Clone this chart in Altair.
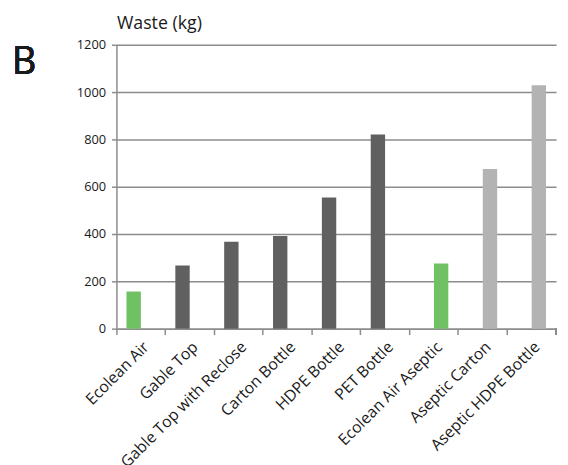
import altair as alt
import pandas as pd

categories = ["Ecolean Air", "Gable Top", "Gable Top with Reclose", "Carton Bottle",
              "HDPE Bottle", "PET Bottle", "Ecolean Air Aseptic", "Aseptic Carton",
              "Aseptic HDPE Bottle"]
waste = [157, 267, 367, 392, 554, 821, 275, 675, 1029]
series = ["Chilled", "Chilled", "Chilled", "Chilled", "Chilled", "Chilled",
          "Aseptic", "Aseptic", "Aseptic"]
kind = ["Ecolean", "Chilled", "Chilled", "Chilled", "Chilled", "Chilled",
        "Ecolean", "Aseptic", "Aseptic"]
y_ticks = [0, 200, 400, 600, 800, 1000, 1200]

df = pd.DataFrame({"cat": categories, "waste": waste, "series": series, "kind": kind})

FONT = "Open Sans"
W, H = 446, 288

bars = alt.Chart(df).mark_bar().encode(
    x=alt.X("cat:N", sort=categories, title=None,
            scale=alt.Scale(paddingInner=0, paddingOuter=0),
            axis=alt.Axis(labelAngle=-45, labelAlign="right", labelBaseline="top",
                          labelFontSize=16, labelFont=FONT, labelColor="#1a1a1a",
                          labelPadding=4, bandPosition=0, tickSize=6, tickWidth=1.5,
                          tickColor="#8c8c8c", domainColor="#8c8c8c", domainWidth=1.5,
                          grid=False, labelOverlap=False, labelBound=False,
                          labelLimit=400)),
    xOffset=alt.XOffset("series:N", sort=["Chilled", "Aseptic"],
                        scale=alt.Scale(paddingInner=0, paddingOuter=0.7)),
    y=alt.Y("waste:Q", scale=alt.Scale(domain=[0, 1200]),
            axis=alt.Axis(values=y_ticks, format="d", title="Waste (kg)",
                          titleAngle=0, titleAlign="left", titleBaseline="middle",
                          titleX=0, titleY=-22,
                          titleFont=FONT, titleFontSize=18, titleFontWeight="normal",
                          titleColor="#1a1a1a", labelFont=FONT, labelFontSize=13,
                          labelColor="#1a1a1a", labelPadding=6, tickSize=5,
                          tickWidth=1.5, tickColor="#8c8c8c", domainColor="#8c8c8c",
                          domainWidth=1.5, gridColor="#8c8c8c", gridWidth=1.5)),
    color=alt.Color("kind:N", legend=None,
                    scale=alt.Scale(domain=["Ecolean", "Chilled", "Aseptic"],
                                    range=["#70c163", "#5f605f", "#b3b3b3"])),
)

end_tick = alt.Chart(df).mark_rule(color="#8c8c8c", strokeWidth=1.5).encode(
    x=alt.value(W), y=alt.value(H), y2=alt.value(H + 6))

label_b = alt.Chart(df).mark_text(text="B", font=FONT, fontSize=38, color="#1a1a1a",
                                  align="left", baseline="middle").encode(
    x=alt.value(-106), y=alt.value(19))

chart = alt.layer(bars, end_tick, label_b).properties(
    width=W, height=H,
    autosize=alt.AutoSizeParams(type="none"),
    padding={"left": 110, "top": 34, "right": 4, "bottom": 135},
).configure_view(stroke=None)

chart.save("out.html", embed_options={"renderer": "svg", "actions": False})
